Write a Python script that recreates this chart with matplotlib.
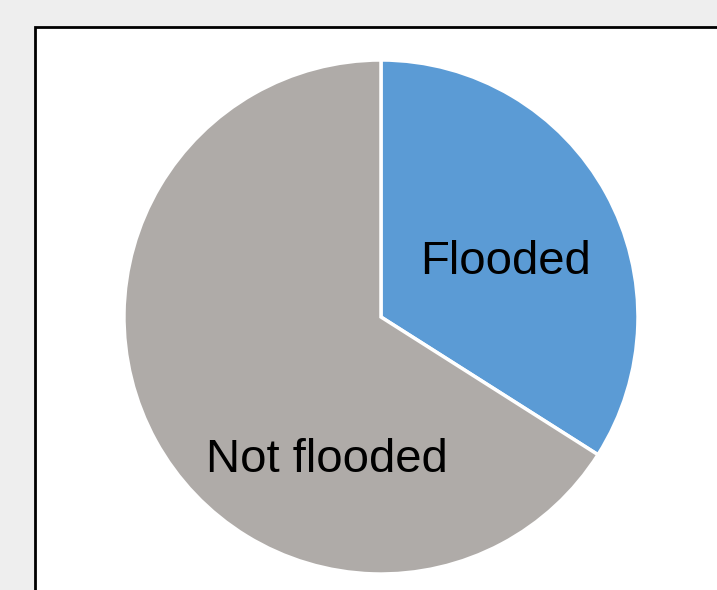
import numpy as np
import matplotlib.pyplot as plt
from matplotlib.patches import Rectangle

# slice data
labels = ["Flooded", "Not flooded"]
values = [34, 66]
colors = ["#5b9bd5", "#afaba8"]
# label anchor positions (fraction of radius, angle in deg)
label_pos = [(0.53, 24), (0.595, -110.7)]

plt.rcParams['font.family'] = ['Liberation Sans', 'DejaVu Sans']

fig = plt.figure(figsize=(7.17, 5.90), dpi=100)
fig.patch.set_facecolor("#eeeeee")

# white chart area with black frame (runs off the right/bottom edges)
fig.patches.append(Rectangle((35 / 717, -0.1), 1.2, 0.1 + (1 - 27 / 590),
                             transform=fig.transFigure, facecolor="white",
                             edgecolor="black", linewidth=2, zorder=-5))

ax = fig.add_axes([0.1729, 0.0271, 0.7169, 0.8712])
ax.set_zorder(1)
ax.pie(values, colors=colors, startangle=90, counterclock=False,
       wedgeprops=dict(edgecolor="white", linewidth=2.5))
ax.set_xlim(-1.0, 1.0)
ax.set_ylim(-1.0, 1.0)
ax.set_aspect("equal")

for lab, (r, ang) in zip(labels, label_pos):
    a = np.deg2rad(ang)
    ax.text(r * np.cos(a), r * np.sin(a), lab, fontsize=34,
            ha="center", va="center", color="black")

fig.savefig("out.png", dpi=100, facecolor=fig.get_facecolor())
